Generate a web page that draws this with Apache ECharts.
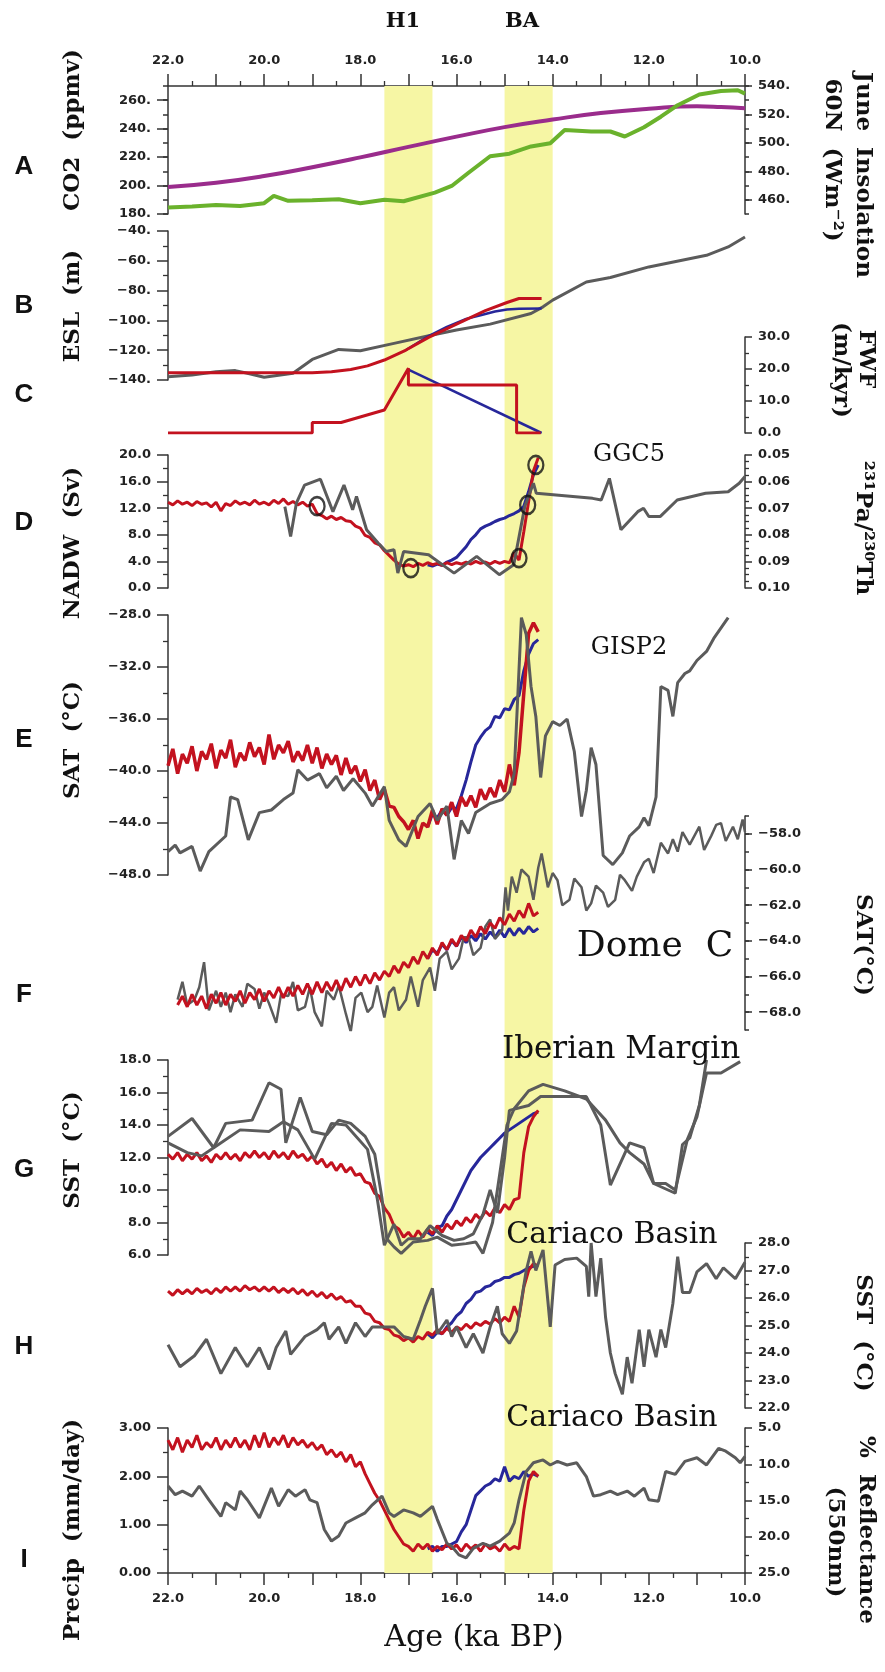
<!DOCTYPE html>
<html>
<head>
<meta charset="utf-8">
<title>Deglacial records</title>
<script src="https://cdn.jsdelivr.net/npm/echarts@6/dist/echarts.min.js"></script>
<style>
html, body { margin: 0; padding: 0; background: #fff; }
#chart { width: 885px; height: 1672px; }
</style>
</head>
<body>
<div id="chart"></div>
<script>
// ---- data (ages in ka BP) ----
var bandStart = [17.5, 15.0];
var bandEnd = [16.5, 14.0];

// labelled ticks on axes whose ends are not on a label
var co2Ticks = [180, 200, 220, 240, 260];
var insolTicks = [460, 480, 500, 520, 540];
var domeTicks = [-68, -66, -64, -62, -60, -58];

// A: CO2 (ppmv) and June insolation 60N
var co2 = [[22.0,184.6],[21.5,185.3],[21.0,186.3],[20.5,185.6],[20.0,187.6],[19.8,192.7],[19.5,189.3],[19.0,189.7],[18.45,190.4],[18.0,187.6],[17.5,190.0],[17.1,189.0],[16.45,195.0],[16.1,199.7],[15.75,209.0],[15.3,220.6],[14.9,222.4],[14.45,227.5],[14.05,229.8],[13.75,239.0],[13.2,238.0],[12.8,238.0],[12.5,234.5],[12.1,241.0],[11.75,248.4],[11.4,256.5],[10.95,264.0],[10.5,266.5],[10.15,267.0],[10.0,264.6]];
var insolation = [[22.0,469.0],[21.0,472.0],[20.0,476.7],[19.0,482.9],[18.0,489.8],[17.0,497.2],[16.0,504.4],[15.0,511.1],[14.0,516.4],[13.0,521.0],[12.0,524.0],[11.0,525.7],[10.5,525.2],[10.0,524.3]];

// B: equivalent sea level (m)
var eslGrey = [[22.0,-137.8],[21.5,-136.6],[21.0,-134.4],[20.6,-133.7],[20.35,-135.5],[20.0,-138.2],[19.4,-135.5],[19.0,-126.2],[18.45,-119.5],[18.0,-120.4],[17.3,-115.4],[16.6,-110.5],[16.0,-106.5],[15.3,-102.5],[14.45,-95.4],[14.2,-90.9],[14.0,-86.4],[13.3,-74.2],[12.8,-71.2],[12.0,-64.1],[10.8,-56.3],[10.35,-50.7],[10.0,-44.0]];
var eslRed = [[22.0,-135.1],[19.0,-135.1],[18.6,-134.5],[18.2,-132.9],[17.85,-130.5],[17.5,-126.6],[17.05,-119.9],[16.58,-111.4],[16.0,-102.5],[15.4,-93.5],[14.95,-88.0],[14.7,-85.3],[14.23,-85.3]];
var eslBlue = [[17.05,-119.9],[16.58,-110.5],[16.2,-104.3],[15.8,-99.0],[15.5,-96.5],[15.2,-94.0],[14.95,-92.7],[14.7,-92.2],[14.23,-92.0]];

// C: freshwater flux (m/kyr)
var fwfRed = [[22.0,0],[19.0,0],[19.0,3.3],[18.4,3.3],[17.5,7.2],[17.0,20.2],[17.0,15.0],[14.75,15.0],[14.75,0],[14.25,0]];
var fwfBlue = [[17.0,19.8],[14.23,0]];

// model time axis
var modelAge = [
  22.0, 21.9, 21.8, 21.7, 21.6, 21.5, 21.4, 21.3, 21.2, 21.1,
  21.0, 20.9, 20.8, 20.7, 20.6, 20.5, 20.4, 20.3, 20.2, 20.1,
  20.0, 19.9, 19.8, 19.7, 19.6, 19.5, 19.4, 19.3, 19.2, 19.1,
  19.0, 18.9, 18.8, 18.7, 18.6, 18.5, 18.4, 18.3, 18.2, 18.1,
  18.0, 17.9, 17.8, 17.7, 17.6, 17.5, 17.4, 17.3, 17.2, 17.1,
  17.0, 16.9, 16.8, 16.7, 16.6, 16.5, 16.4, 16.3, 16.2, 16.1,
  16.0, 15.9, 15.8, 15.7, 15.6, 15.5, 15.4, 15.3, 15.2, 15.1,
  15.0, 14.9, 14.8, 14.7, 14.6, 14.5, 14.4, 14.3];
var blueAge = [
  16.6, 16.5, 16.4, 16.3, 16.2, 16.1, 16.0, 15.9, 15.8, 15.7,
  15.6, 15.5, 15.4, 15.3, 15.2, 15.1, 15.0, 14.9, 14.8, 14.7,
  14.6, 14.5, 14.4, 14.3];

// D: NADW (Sv) and GGC5 231Pa/230Th
var nadwRed = [
  12.9, 12.5, 13.1, 12.6, 12.9, 12.4, 13.0, 12.6, 12.8, 12.2,
  12.9, 11.6, 12.7, 12.4, 13.1, 12.6, 12.9, 12.5, 13.2, 12.6,
  12.9, 12.5, 13.2, 12.7, 13.4, 12.6, 13.0, 12.5, 12.9, 12.3,
  12.6, 11.2, 10.9, 10.4, 10.8, 10.3, 10.6, 10.1, 10.0, 9.3,
  9.0, 7.9, 7.6, 6.8, 6.5, 5.6, 4.9, 4.2, 3.6, 3.3,
  3.5, 3.2, 3.7, 3.4, 3.8, 3.5, 3.7, 3.4, 3.8, 3.5,
  3.8, 3.6, 3.9, 3.6, 4.0, 3.7, 3.9, 3.6, 4.0, 3.7,
  4.0, 3.8, 5.3, 4.2, 8.5, 13.0, 17.6, 19.6];
var nadwBlue = [
  3.5, 3.3, 3.6, 3.4, 3.9, 4.2, 4.6, 5.4, 6.2, 7.3,
  8.0, 8.9, 9.3, 9.6, 10.0, 10.3, 10.5, 10.9, 11.2, 11.6,
  12.3, 14.5, 17.0, 18.5];
var ggc5 = [[19.57,0.0694],[19.45,0.0806],[19.33,0.0681],[19.16,0.0613],[18.83,0.0591],[18.57,0.0713],[18.34,0.0613],[18.16,0.0706],[18.08,0.0656],[17.87,0.0781],[17.63,0.0831],[17.46,0.0863],[17.3,0.0856],[17.22,0.0944],[17.1,0.0863],[16.58,0.0875],[16.05,0.0944],[15.58,0.0881],[15.11,0.095],[14.81,0.0913],[14.58,0.0694],[14.4,0.0606],[14.34,0.0644],[13.17,0.0663],[12.99,0.0669],[12.82,0.0588],[12.58,0.0781],[12.23,0.0713],[12.11,0.07],[12.0,0.0731],[11.76,0.0731],[11.41,0.0669],[10.82,0.0644],[10.35,0.0638],[10.12,0.0606],[10.0,0.0581]];
var circleAge = [18.9, 16.95, 14.7, 14.52, 14.35];
var circleNadw = [12.3, 3.0, 4.5, 12.5, 18.5];

// E: Greenland SAT (degC)
var satRed = [
  -39.6, -38.3, -40.2, -38.7, -39.4, -38.1, -40.0, -38.5, -39.1, -37.9,
  -39.8, -38.4, -39.0, -37.6, -39.7, -38.6, -39.2, -37.8, -38.9, -38.2,
  -39.5, -37.2, -39.1, -38.0, -38.6, -37.7, -39.3, -38.5, -39.2, -38.0,
  -39.4, -38.2, -39.8, -38.7, -39.5, -38.8, -40.3, -39.0, -40.2, -39.6,
  -40.8, -39.9, -41.5, -40.7, -42.2, -41.4, -42.7, -42.8, -43.5, -43.9,
  -44.5, -43.8, -45.2, -44.0, -44.3, -43.0, -44.1, -42.9, -43.4, -42.4,
  -43.5, -42.0, -42.7, -41.9, -42.8, -41.4, -42.2, -41.3, -42.0, -40.7,
  -41.6, -39.5, -41.1, -38.6, -34.0, -29.4, -28.6, -29.3];
var satBlue = [
  -44.3, -43.3, -43.6, -43.0, -43.4, -42.8, -42.9, -41.9, -40.7, -39.3,
  -38.0, -37.4, -36.9, -36.6, -35.8, -35.9, -35.2, -35.3, -34.5, -34.2,
  -32.3, -31.0, -30.2, -29.9];
var gisp2 = [[22.0,-46.2],[21.85,-45.7],[21.75,-46.3],[21.5,-45.8],[21.33,-47.7],[21.15,-46.2],[20.8,-45.0],[20.7,-42.0],[20.55,-42.2],[20.33,-45.3],[20.1,-43.2],[19.85,-43.0],[19.6,-42.2],[19.4,-41.7],[19.3,-39.9],[19.1,-40.7],[18.85,-40.2],[18.7,-41.3],[18.5,-40.4],[18.35,-41.5],[18.15,-40.6],[17.9,-41.7],[17.75,-42.7],[17.5,-41.2],[17.4,-43.8],[17.2,-45.3],[17.05,-45.8],[16.8,-43.5],[16.55,-42.5],[16.4,-43.8],[16.2,-42.7],[16.05,-46.8],[15.9,-43.8],[15.75,-44.8],[15.6,-43.2],[15.3,-42.5],[15.05,-42.2],[14.9,-41.6],[14.8,-40.2],[14.65,-28.2],[14.55,-29.5],[14.45,-33.5],[14.35,-35.8],[14.25,-40.5],[14.15,-37.3],[14.0,-36.2],[13.85,-36.5],[13.7,-36.0],[13.55,-38.5],[13.4,-43.5],[13.3,-41.5],[13.2,-38.2],[13.1,-39.5],[12.95,-46.5],[12.75,-47.2],[12.55,-46.3],[12.4,-45.0],[12.2,-44.3],[12.1,-43.6],[12.0,-44.2],[11.85,-42.0],[11.75,-33.5],[11.6,-33.8],[11.5,-35.8],[11.4,-33.2],[11.25,-32.5],[11.15,-32.3],[11.0,-31.5],[10.8,-30.8],[10.65,-29.8],[10.35,-28.2]];

// F: Antarctic SAT (degC)
var domeRed = [
  null, null, -67.6, -67.1, -67.7, -67.0, -67.6, -67.1, -67.8, -67.0,
  -67.5, -66.9, -67.6, -67.0, -67.4, -66.8, -67.5, -66.9, -67.3, -66.7,
  -67.4, -66.8, -67.2, -66.6, -67.2, -66.6, -67.1, -66.5, -67.0, -66.4,
  -67.0, -66.3, -66.9, -66.3, -66.8, -66.2, -66.8, -66.1, -66.6, -66.0,
  -66.5, -65.9, -66.4, -65.8, -66.2, -65.7, -66.0, -65.4, -65.8, -65.2,
  -65.5, -64.9, -65.3, -64.6, -65.0, -64.4, -64.8, -64.1, -64.5, -63.9,
  -64.3, -63.7, -64.0, -63.4, -63.8, -63.2, -63.6, -63.0, -63.3, -62.7,
  -63.1, -62.5, -62.9, -62.3, -62.7, -61.9, -62.6, -62.4];
var domeBlue = [
  -65.0, -64.5, -64.7, -64.2, -64.5, -64.0, -64.3, -63.8, -64.1, -63.7,
  -64.0, -63.6, -63.9, -63.5, -63.8, -63.4, -63.8, -63.3, -63.7, -63.3,
  -63.6, -63.2, -63.5, -63.3];
var domeC = [[21.8,-67.3],[21.7,-66.3],[21.6,-67.6],[21.45,-67.3],[21.35,-66.6],[21.25,-65.2],[21.15,-67.9],[21.0,-66.8],[20.9,-67.7],[20.8,-66.9],[20.7,-68.0],[20.6,-67.0],[20.45,-67.7],[20.35,-66.4],[20.2,-66.7],[20.1,-67.8],[20.0,-66.9],[19.9,-67.5],[19.75,-68.6],[19.65,-67.0],[19.5,-67.1],[19.4,-66.3],[19.3,-67.9],[19.15,-67.7],[19.05,-66.6],[18.95,-68.0],[18.8,-68.8],[18.7,-66.8],[18.55,-67.3],[18.45,-66.5],[18.3,-68.1],[18.2,-69.1],[18.1,-67.2],[17.98,-66.9],[17.85,-68.0],[17.75,-67.7],[17.65,-66.5],[17.5,-68.3],[17.4,-66.9],[17.3,-66.6],[17.2,-67.9],[17.05,-67.3],[16.95,-66.0],[16.8,-67.7],[16.7,-66.2],[16.55,-65.5],[16.45,-66.8],[16.35,-65.0],[16.2,-64.6],[16.1,-65.6],[15.95,-65.0],[15.85,-63.8],[15.75,-63.8],[15.65,-64.8],[15.5,-64.4],[15.4,-63.2],[15.3,-62.8],[15.2,-63.9],[15.05,-63.4],[14.98,-61.0],[14.93,-62.3],[14.85,-60.4],[14.75,-61.3],[14.65,-60.0],[14.5,-60.4],[14.4,-61.7],[14.3,-59.9],[14.23,-59.1],[14.1,-61.0],[14.0,-60.2],[13.9,-60.6],[13.8,-62.0],[13.65,-61.7],[13.55,-60.5],[13.4,-61.0],[13.3,-62.3],[13.2,-61.9],[13.1,-60.9],[12.95,-61.3],[12.85,-62.1],[12.7,-61.7],[12.6,-60.3],[12.5,-60.6],[12.35,-61.2],[12.25,-60.4],[12.1,-59.6],[12.0,-59.4],[11.9,-60.2],[11.75,-58.5],[11.6,-59.1],[11.5,-58.3],[11.4,-59.0],[11.3,-57.9],[11.15,-58.6],[10.95,-57.6],[10.85,-58.9],[10.7,-58.1],[10.6,-57.5],[10.5,-57.4],[10.4,-58.4],[10.25,-57.6],[10.15,-58.3],[10.05,-57.2],[10.0,-57.9]];

// G: Iberian Margin SST (degC)
var iberRed = [
  12.2, 11.9, 12.3, 11.8, 12.2, 11.9, 12.3, 11.8, 12.1, 11.7,
  12.2, 11.9, 12.3, 11.9, 12.2, 11.8, 12.3, 12.0, 12.4, 12.0,
  12.3, 11.9, 12.4, 12.0, 12.3, 11.9, 12.4, 12.0, 12.2, 11.8,
  12.1, 11.6, 11.9, 11.4, 11.7, 11.2, 11.6, 11.1, 11.4, 10.9,
  11.0, 10.5, 10.4, 9.8, 9.6, 8.9, 8.5, 7.8, 7.6, 7.1,
  7.4, 7.0, 7.5, 7.1, 7.6, 7.3, 7.8, 7.4, 7.9, 7.6,
  8.1, 7.8, 8.3, 8.0, 8.5, 8.2, 8.7, 8.4, 8.9, 8.6,
  9.1, 8.8, 9.4, 9.5, 12.3, 13.9, 14.5, 14.9];
var iberBlue = [
  7.4, 7.2, 7.7, 7.8, 8.4, 8.8, 9.4, 10.0, 10.6, 11.2,
  11.6, 12.0, 12.3, 12.6, 12.9, 13.2, 13.5, 13.7, 13.9, 14.1,
  14.3, 14.5, 14.7, 14.8];
var iberian1 = [[22.0,13.3],[21.5,14.4],[21.05,12.6],[20.8,14.1],[20.25,14.3],[19.9,16.6],[19.65,16.2],[19.55,12.9],[19.25,15.7],[19.0,13.6],[18.7,13.4],[18.45,14.3],[18.2,14.1],[17.9,13.3],[17.7,12.2],[17.55,9.5],[17.45,7.0],[17.3,6.5],[17.15,6.1],[16.9,6.8],[16.6,6.9],[16.4,7.1],[16.1,6.6],[15.8,6.7],[15.6,6.8],[15.45,6.1],[15.25,8.0],[15.1,11.0],[14.95,14.0],[14.8,15.0],[14.5,16.1],[14.2,16.5],[13.75,16.1],[13.3,15.6],[12.9,14.3],[12.6,12.9],[12.4,12.3],[12.1,11.6],[11.9,10.4],[11.65,10.4],[11.45,10.0],[11.2,13.1],[11.0,14.5],[10.8,17.2],[10.5,17.2],[10.1,17.9]];
var iberian2 = [[22.0,12.9],[21.6,12.3],[21.3,12.1],[20.95,12.8],[20.5,13.7],[19.9,13.6],[19.6,14.2],[19.3,13.7],[18.95,11.9],[18.6,14.1],[18.3,14.0],[17.85,12.5],[17.65,9.5],[17.5,6.6],[17.3,7.9],[17.15,6.6],[17.0,7.0],[16.75,7.0],[16.55,7.8],[16.3,7.2],[16.05,6.9],[15.85,7.0],[15.65,7.3],[15.45,8.5],[15.3,10.0],[15.15,8.6],[15.0,12.0],[14.9,14.9],[14.5,15.2],[14.25,15.75],[13.9,15.75],[13.3,15.75],[13.0,14.0],[12.8,10.3],[12.4,12.9],[12.1,12.6],[11.9,10.4],[11.45,9.8],[11.3,12.8],[11.15,13.2],[10.95,15.2],[10.8,18.0]];

// H: Cariaco Basin SST (degC)
var cariRed = [
  26.25, 26.1, 26.3, 26.15, 26.3, 26.15, 26.35, 26.2, 26.3, 26.15,
  26.35, 26.2, 26.4, 26.25, 26.4, 26.25, 26.45, 26.3, 26.4, 26.25,
  26.4, 26.25, 26.4, 26.2, 26.35, 26.2, 26.35, 26.15, 26.3, 26.1,
  26.25, 26.05, 26.2, 26.0, 26.15, 25.95, 26.05, 25.85, 25.9, 25.7,
  25.7, 25.45, 25.4, 25.15, 25.1, 24.9, 24.85, 24.65, 24.6, 24.45,
  24.55, 24.4, 24.6, 24.5, 24.75, 24.65, 24.85, 24.7, 24.9, 24.75,
  24.95, 24.85, 25.05, 24.9, 25.1, 25.0, 25.15, 25.05, 25.25, 25.1,
  25.3, 25.15, 25.7, 25.3, 26.4, 27.0, 27.25, 27.15];
var cariBlue = [
  24.7, 24.55, 24.75, 24.7, 24.95, 25.1, 25.35, 25.5, 25.8, 25.95,
  26.2, 26.25, 26.4, 26.45, 26.6, 26.65, 26.75, 26.75, 26.85, 26.9,
  27.0, 27.1, 27.15, 27.2];
var cariacoSst = [[22.0,24.3],[21.75,23.5],[21.45,23.9],[21.2,24.5],[20.9,23.25],[20.6,24.2],[20.35,23.5],[20.1,24.2],[19.9,23.4],[19.75,24.2],[19.55,24.8],[19.45,23.95],[19.15,24.6],[18.9,24.85],[18.75,25.1],[18.65,24.5],[18.45,24.95],[18.3,24.35],[18.1,25.1],[17.9,24.6],[17.75,24.95],[17.3,24.95],[17.1,24.6],[16.9,24.5],[16.75,25.2],[16.65,25.7],[16.5,26.35],[16.4,24.7],[16.2,25.2],[16.1,24.6],[16.0,24.95],[15.8,24.2],[15.65,24.7],[15.45,24.0],[15.3,24.95],[15.15,25.7],[15.05,24.7],[14.9,24.35],[14.75,24.8],[14.55,27.0],[14.45,27.7],[14.35,27.0],[14.2,27.75],[14.1,25.9],[14.05,24.95],[13.95,27.2],[13.75,27.4],[13.5,27.45],[13.3,27.15],[13.25,26.05],[13.2,28.0],[13.1,26.05],[13.0,27.45],[12.9,25.3],[12.8,24.0],[12.7,23.25],[12.55,22.5],[12.45,23.85],[12.35,22.9],[12.2,24.85],[12.1,23.5],[12.0,24.85],[11.85,23.85],[11.75,24.85],[11.65,24.2],[11.5,25.8],[11.4,27.5],[11.3,26.2],[11.15,26.2],[11.0,26.95],[10.8,27.25],[10.6,26.7],[10.45,27.1],[10.2,26.7],[10.0,27.3]];

// I: precipitation (mm/day) and Cariaco % reflectance
var precipRed = [
  2.75, 2.55, 2.8, 2.5, 2.75, 2.6, 2.85, 2.55, 2.7, 2.6,
  2.8, 2.55, 2.75, 2.6, 2.8, 2.6, 2.75, 2.55, 2.85, 2.6,
  2.9, 2.6, 2.8, 2.65, 2.85, 2.6, 2.8, 2.65, 2.75, 2.6,
  2.7, 2.55, 2.65, 2.45, 2.55, 2.4, 2.5, 2.3, 2.45, 2.2,
  2.3, 2.05, 1.85, 1.65, 1.5, 1.3, 1.1, 0.9, 0.75, 0.6,
  0.55, 0.45, 0.6, 0.5, 0.6, 0.45, 0.55, 0.48, 0.6, 0.5,
  0.58, 0.45, 0.6, 0.5, 0.58, 0.45, 0.6, 0.5, 0.55, 0.45,
  0.6, 0.48, 0.55, 0.5, 1.3, 1.9, 2.1, 2.0];
var precipBlue = [
  0.5, 0.55, 0.45, 0.55, 0.55, 0.6, 0.65, 0.85, 1.0, 1.3,
  1.6, 1.7, 1.8, 1.85, 1.95, 1.9, 2.2, 1.9, 2.0, 1.95,
  2.1, 2.0, 2.05, 2.0];
var reflectance = [[22.0,13.0],[21.85,14.2],[21.7,13.7],[21.5,14.4],[21.35,13.0],[21.15,14.9],[20.9,17.2],[20.8,15.3],[20.6,16.3],[20.5,13.7],[20.35,14.9],[20.1,17.4],[19.85,13.3],[19.7,15.8],[19.5,13.5],[19.35,14.4],[19.15,13.5],[19.05,14.9],[18.9,15.3],[18.75,19.0],[18.6,20.6],[18.45,19.9],[18.3,18.1],[18.1,17.4],[17.9,16.7],[17.75,15.6],[17.55,14.4],[17.4,16.7],[17.3,17.2],[17.1,16.3],[16.9,16.7],[16.75,17.2],[16.5,15.8],[16.4,17.6],[16.2,20.9],[16.1,21.3],[15.95,22.5],[15.8,22.9],[15.65,21.6],[15.45,20.9],[15.3,21.3],[15.1,20.6],[14.9,19.5],[14.8,18.1],[14.7,14.9],[14.55,11.0],[14.4,9.8],[14.2,9.4],[14.05,10.1],[13.9,9.6],[13.7,10.1],[13.5,9.8],[13.3,11.7],[13.15,14.4],[13.0,14.2],[12.8,13.7],[12.65,14.2],[12.45,13.7],[12.3,14.4],[12.1,13.3],[12.0,14.9],[11.8,15.1],[11.65,11.0],[11.45,11.4],[11.25,9.6],[11.0,9.1],[10.8,10.1],[10.55,7.8],[10.4,8.2],[10.2,9.1],[10.1,9.8],[10.0,8.9]];

// ---- chart ----
var RED = '#c3121f', BLUE = '#27279a', GREY = '#5b5b5b', INK = '#222', AX = '#333';
var chart = document.getElementById('chart');
var myChart = echarts.init(chart);

function pairs(xs, ys) {
    var out = [];
    for (var i = 0; i < xs.length; i++) {
        if (ys[i] !== null) out.push([xs[i], ys[i]]);
    }
    return out;
}

function labelFmt(step, dec) {
    return function (v) {
        var r = v / step;
        if (Math.abs(r - Math.round(r)) > 1e-6) return '';
        var s = dec === 0 ? Math.round(v) + '.' : v.toFixed(dec);
        return s.replace('-', '\u2212');
    };
}

var tickFont = { color: INK, fontFamily: 'DejaVu Sans', fontWeight: 'bold', fontSize: 13 };

// major/minor tick lengths differ between the left and right side axes
function yAx(grid, pos, min, max, interval, step, dec, minor, inverse, majorLen) {
    var left = pos === 'left';
    return {
        type: 'value', gridIndex: grid, position: pos, min: min, max: max,
        interval: interval, inverse: !!inverse,
        axisLine: { show: true, onZero: false, lineStyle: { color: AX, width: 1.5 } },
        axisTick: { show: true, inside: false, length: majorLen || (left ? 11 : 7), lineStyle: { color: AX, width: 1.5 } },
        minorTick: { show: minor > 1, splitNumber: minor || 2, length: left ? 5 : 4, lineStyle: { color: AX, width: 1.3 } },
        splitLine: { show: false },
        axisLabel: Object.assign({ margin: left ? 17 : 13, formatter: labelFmt(step, dec) }, tickFont)
    };
}

// extra axis drawing only the long ticks at labelled values
function tickOverlay(grid, pos, min, max, values, len) {
    return {
        type: 'value', gridIndex: grid, position: pos, min: min, max: max,
        axisLine: { show: false }, axisLabel: { show: false }, splitLine: { show: false },
        axisTick: { show: true, length: len, customValues: values, lineStyle: { color: AX, width: 1.5 } }
    };
}

// grid boxes: band, A..I
var gridBoxes = [
    [86, 1487], [86, 128], [231, 149], [337, 96], [455, 133],
    [615, 260], [816, 214], [1060, 195], [1243, 165], [1428, 145]
];
var grids = gridBoxes.map(function (b) {
    return { left: 168, right: 140, top: b[0], height: b[1] };
});

var xAxes = gridBoxes.map(function (b, i) {
    var shown = (i === 1 || i === 9);
    return {
        type: 'value', gridIndex: i, min: 10, max: 22, inverse: true, interval: 1,
        show: shown, position: i === 1 ? 'top' : 'bottom',
        axisLine: { show: true, onZero: false, lineStyle: { color: AX, width: 1.5 } },
        axisTick: { show: true, length: 12, lineStyle: { color: AX, width: 1.5 } },
        minorTick: { show: true, splitNumber: 2, length: 5, lineStyle: { color: AX, width: 1.3 } },
        splitLine: { show: false },
        axisLabel: Object.assign({ margin: 19, formatter: labelFmt(2, 1) }, tickFont)
    };
});

var yAxes = [
    { type: 'value', gridIndex: 0, min: 0, max: 1, show: false, splitLine: { show: false } }, // 0 band
    yAx(1, 'left', 180, 270, 10, 20, 0, 0, false, 5),     // 1 CO2
    yAx(1, 'right', 450, 540, 10, 20, 0, 0, false, 4),    // 2 insolation
    yAx(2, 'left', -140, -40, 20, 20, 0, 2),              // 3 ESL
    yAx(3, 'right', 0, 30, 10, 10, 1, 2),                 // 4 FWF
    yAx(4, 'left', 0, 20, 4, 4, 1, 2),                    // 5 NADW
    yAx(4, 'right', 0.05, 0.10, 0.01, 0.01, 2, 4, true),  // 6 Pa/Th
    yAx(5, 'left', -48, -28, 4, 4, 1, 2),                 // 7 SAT Greenland
    yAx(6, 'right', -69, -57, 1, 2, 1, 0, false, 4),      // 8 SAT Dome C
    yAx(7, 'left', 6, 18, 2, 2, 1, 2),                    // 9 SST Iberian
    yAx(8, 'right', 22, 28, 1, 1, 1, 2),                  // 10 SST Cariaco
    yAx(9, 'left', 0, 3, 1, 1, 2, 2),                     // 11 precip
    yAx(9, 'right', 5, 25, 5, 5, 1, 2, true),             // 12 reflectance
    tickOverlay(1, 'left', 180, 270, co2Ticks, 11),       // 13
    tickOverlay(1, 'right', 450, 540, insolTicks, 7),     // 14
    tickOverlay(6, 'right', -69, -57, domeTicks, 7)       // 15
];

function line(grid, yi, data, color, width, z, smooth) {
    return {
        type: 'line', xAxisIndex: grid, yAxisIndex: yi, data: data,
        symbol: 'none', showSymbol: false, smooth: !!smooth, silent: true,
        lineStyle: { color: color, width: width }, z: z || 3
    };
}

var bandAreas = bandStart.map(function (s, i) {
    return [{ xAxis: s }, { xAxis: bandEnd[i] }];
});

var series = [
    {
        type: 'line', xAxisIndex: 0, yAxisIndex: 0, data: [[10, 0.5]], symbol: 'none',
        lineStyle: { width: 0 }, silent: true, z: 0,
        markArea: { silent: true, itemStyle: { color: '#f6f6a4' }, data: bandAreas }
    },
    line(1, 2, insolation, '#9a2c8c', 4, 3, true),
    line(1, 1, co2, '#6ab22c', 4, 4),
    line(2, 3, eslGrey, GREY, 3),
    line(2, 3, eslBlue, BLUE, 2.5, 4),
    line(2, 3, eslRed, RED, 3, 5),
    line(3, 4, fwfBlue, BLUE, 2.5, 4),
    line(3, 4, fwfRed, RED, 3, 5),
    line(4, 5, pairs(blueAge, nadwBlue), BLUE, 3, 3),
    line(4, 5, pairs(modelAge, nadwRed), RED, 3, 4),
    line(4, 6, ggc5, GREY, 3, 5),
    {
        type: 'scatter', xAxisIndex: 4, yAxisIndex: 5, data: pairs(circleAge, circleNadw),
        symbol: 'circle', symbolSize: [15, 18], silent: true, z: 8,
        itemStyle: { color: 'rgba(0,0,0,0)', borderColor: '#111', borderWidth: 2.5 }
    },
    line(5, 7, pairs(blueAge, satBlue), BLUE, 3, 3),
    line(5, 7, pairs(modelAge, satRed), RED, 3.5, 4),
    line(5, 7, gisp2, GREY, 3, 5),
    line(6, 8, pairs(blueAge, domeBlue), BLUE, 3, 3),
    line(6, 8, domeC, GREY, 2.5, 4),
    line(6, 8, pairs(modelAge, domeRed), RED, 3, 5),
    line(7, 9, pairs(blueAge, iberBlue), BLUE, 3, 3),
    line(7, 9, pairs(modelAge, iberRed), RED, 3, 4),
    line(7, 9, iberian1, GREY, 3, 5),
    line(7, 9, iberian2, GREY, 3, 5),
    line(8, 10, pairs(blueAge, cariBlue), BLUE, 3, 3),
    line(8, 10, pairs(modelAge, cariRed), RED, 3, 4),
    line(8, 10, cariacoSst, GREY, 3, 5),
    line(9, 11, pairs(blueAge, precipBlue), BLUE, 3, 3),
    line(9, 11, pairs(modelAge, precipRed), RED, 3, 4),
    line(9, 12, reflectance, GREY, 3, 5)
];

// text: [content, x, y, rotation, font]
var UP = Math.PI / 2, DOWN = -Math.PI / 2;
var LETTER = 'bold 26px "Liberation Sans"';
var TITLE = 'bold 23px "DejaVu Serif"';
var texts = [
    ['H1', 403, 22, 0, 'bold 21px "DejaVu Serif"'],
    ['BA', 522, 22, 0, 'bold 21px "DejaVu Serif"'],
    ['A', 24, 167, 0, LETTER], ['B', 24, 306, 0, LETTER], ['C', 24, 395, 0, LETTER],
    ['D', 24, 523, 0, LETTER], ['E', 24, 740, 0, LETTER], ['F', 24, 995, 0, LETTER],
    ['G', 24, 1170, 0, LETTER], ['H', 24, 1347, 0, LETTER], ['I', 24, 1560, 0, LETTER],
    ['CO2  (ppmv)', 73, 130, UP, TITLE],
    ['ESL  (m)', 73, 306, UP, TITLE],
    ['NADW  (Sv)', 73, 543, UP, TITLE],
    ['SAT  (\u00B0C)', 73, 740, UP, TITLE],
    ['SST  (\u00B0C)', 73, 1150, UP, TITLE],
    ['Precip  (mm/day)', 73, 1530, UP, TITLE],
    ['June  Insolation', 863, 175, DOWN, TITLE],
    ['60N  (Wm\u207B\u00B2)', 832, 160, DOWN, TITLE],
    ['FWF', 866, 359, DOWN, TITLE],
    ['(m/kyr)', 841, 370, DOWN, TITLE],
    ['\u00B2\u00B3\u00B9Pa/\u00B2\u00B3\u2070Th', 863, 528, DOWN, TITLE],
    ['SAT(\u00B0C)', 863, 945, DOWN, TITLE],
    ['SST  (\u00B0C)', 863, 1333, DOWN, TITLE],
    ['%  Reflectance', 866, 1530, DOWN, TITLE],
    ['(550nm)', 835, 1542, DOWN, TITLE],
    ['GGC5', 629, 455, 0, '24px "DejaVu Serif"'],
    ['GISP2', 629, 648, 0, '24px "DejaVu Serif"'],
    ['Dome  C', 655, 947, 0, '36px "DejaVu Serif"'],
    ['Iberian Margin', 621, 1050, 0, '31px "DejaVu Serif"'],
    ['Cariaco Basin', 612, 1235, 0, '30px "DejaVu Serif"'],
    ['Cariaco Basin', 612, 1418, 0, '30px "DejaVu Serif"'],
    ['Age (ka BP)', 474, 1638, 0, '30px "DejaVu Serif"']
];

var graphics = texts.map(function (t) {
    return {
        type: 'text', x: t[1], y: t[2], rotation: t[3], z: 20, silent: true,
        style: {
            text: t[0], font: t[4], fill: '#111',
            textAlign: 'center', textVerticalAlign: 'middle',
            align: 'center', verticalAlign: 'middle'
        }
    };
});

var option = {
    animation: false,
    backgroundColor: '#fff',
    grid: grids,
    xAxis: xAxes,
    yAxis: yAxes,
    series: series,
    graphic: graphics
};

myChart.setOption(option);
</script>
</body>
</html>
